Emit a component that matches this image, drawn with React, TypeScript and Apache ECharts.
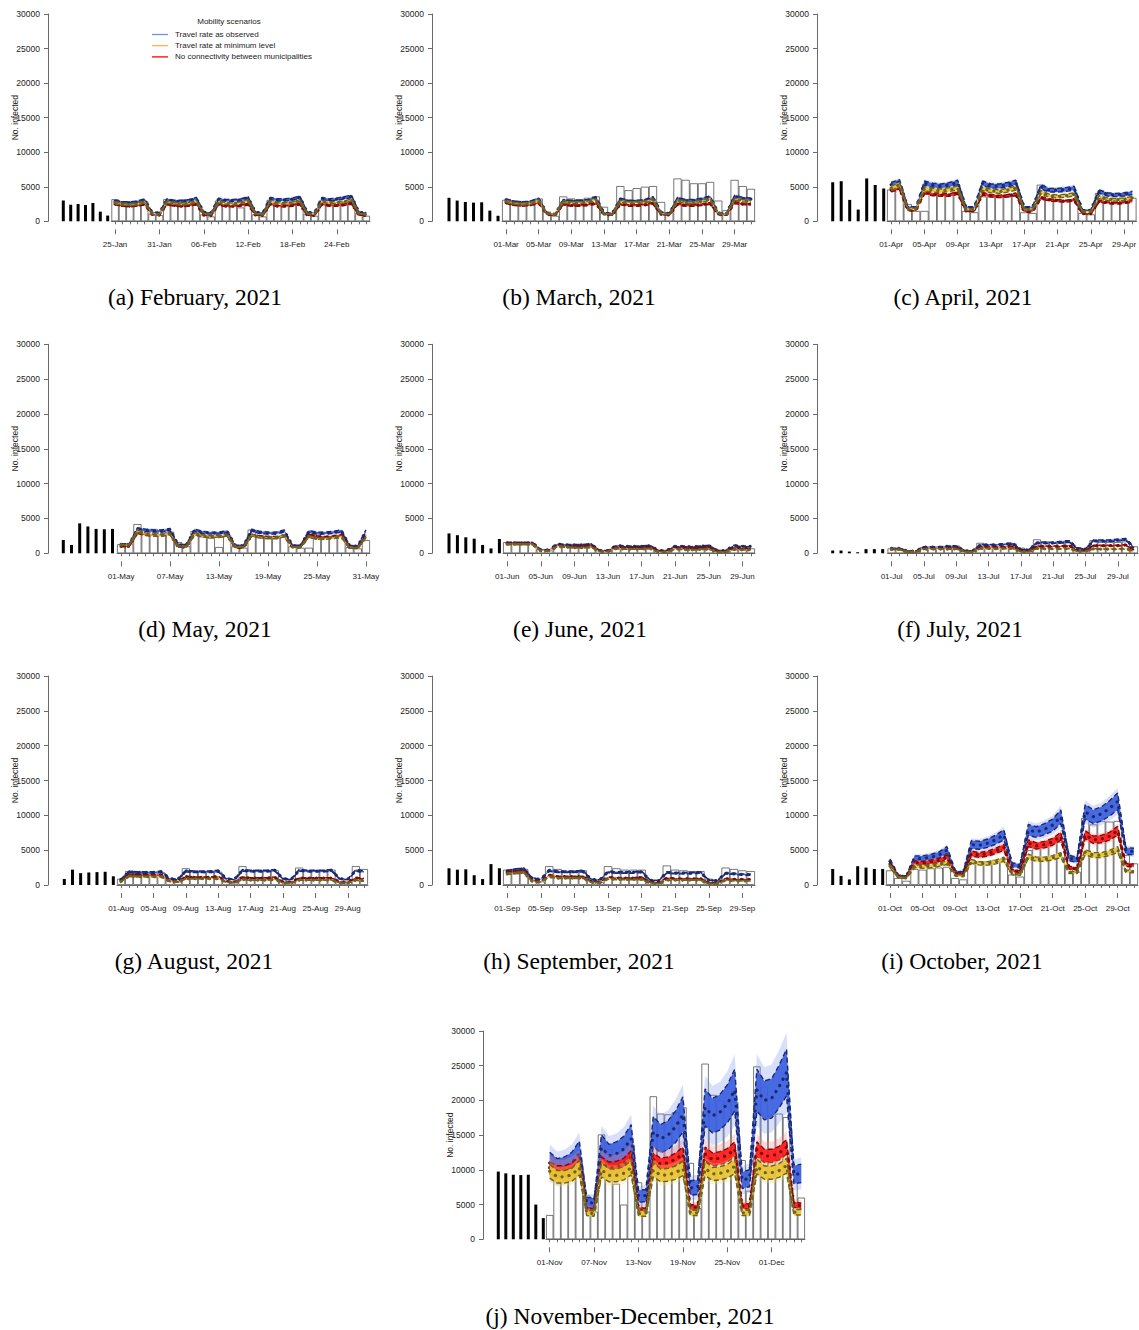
import React, { useEffect, useRef } from "react";
import * as echarts from "echarts";

// ---------------- DATA ----------------
const captions = [
  "(a) February, 2021", "(b) March, 2021", "(c) April, 2021",
  "(d) May, 2021", "(e) June, 2021", "(f) July, 2021",
  "(g) August, 2021", "(h) September, 2021", "(i) October, 2021",
  "(j) November-December, 2021",
];
const startDates = ["2021-01-25", "2021-03-01", "2021-04-01", "2021-05-01", "2021-06-01", "2021-07-01", "2021-08-01", "2021-09-01", "2021-10-01", "2021-11-01"];
const dayCounts = [35, 31, 30, 31, 30, 31, 31, 30, 31, 35];
const labelSteps = [6, 4, 4, 6, 4, 4, 4, 4, 4, 6];
const scenarioNames = ["Travel rate as observed", "Travel rate at minimum level", "No connectivity between municipalities"];
const legendTitle = "Mobility scenarios";

// previous week (black bars)
const febPast = [3000, 2400, 2500, 2350, 2650, 1400, 830];
const marPast = [3400, 3000, 2800, 2700, 2750, 1550, 800];
const aprPast = [5650, 5800, 3100, 1700, 6200, 5250, 4750];
const mayPast = [1900, 1200, 4300, 3850, 3500, 3450, 3500];
const junPast = [2850, 2600, 2300, 2100, 1200, 700, 2050];
const julPast = [400, 400, 250, 150, 600, 600, 600];
const augPast = [850, 2200, 1700, 1800, 1850, 1900, 1250];
const sepPast = [2400, 2200, 2250, 1400, 850, 3000, 2400];
const octPast = [2300, 1300, 800, 2700, 2500, 2300, 2300];
const novPast = [9750, 9500, 9300, 9250, 9300, 5000, 3050];

// observed cases during forecast window (white bars)
const febObs = [3200, 2700, 2600, 2700, 2900, 1100, 900, 3200, 2600, 2500, 2600, 2800, 1000, 700, 3000, 2500, 2300, 2000, 2300, 1000, 700, 3100, 2700, 2600, 2800, 3000, 1100, 800, 3000, 2500, 2400, 2600, 2800, 1200, 800];
const marObs = [3100, 2900, 2700, 2900, 3300, 1400, 800, 3600, 3300, 3200, 3400, 3600, 2100, 1200, 5100, 4500, 4800, 5000, 5100, 2800, 1300, 6200, 6000, 5500, 5500, 5700, 3000, 1600, 6000, 5100, 4700];
const aprObs = [4600, 4800, 2500, 1500, 1500, 4000, 3900, 3800, 4000, 1500, 1300, 3600, 3600, 3500, 3600, 3800, 1300, 1200, 5300, 3200, 3000, 3000, 3000, 1200, 1000, 4100, 3300, 3300, 3300, 3400];
const mayObs = [1300, 1400, 4200, 3500, 3500, 3300, 3100, 1600, 1000, 3200, 2400, 2200, 900, 2600, 1000, 800, 3400, 2600, 2500, 2400, 2500, 1000, 800, 800, 2800, 2400, 2300, 2500, 900, 700, 1900];
const junObs = [1600, 1500, 1400, 1400, 600, 400, 1300, 1200, 1000, 1100, 1100, 400, 300, 1000, 900, 900, 800, 900, 300, 200, 900, 800, 700, 800, 900, 300, 200, 800, 700, 700];
const julObs = [700, 700, 300, 200, 900, 800, 800, 900, 1100, 400, 300, 1500, 1300, 1300, 1300, 1400, 800, 400, 2000, 1700, 1600, 1500, 1600, 900, 600, 1900, 1600, 1600, 1600, 1700, 1000];
const augObs = [900, 2000, 1900, 1800, 1800, 1800, 900, 500, 2400, 2000, 1900, 1900, 1900, 1000, 500, 2700, 2000, 2000, 2000, 2100, 800, 400, 2500, 2100, 2100, 2100, 2200, 900, 400, 2700, 2300];
const sepObs = [2200, 2300, 2300, 1100, 500, 2700, 2300, 2000, 2000, 2100, 900, 400, 2700, 2400, 2200, 2200, 2200, 800, 400, 2800, 2200, 2100, 2000, 2000, 900, 400, 2500, 2300, 2100, 2000];
const octObs = [2100, 1000, 600, 2300, 2200, 2400, 2500, 2600, 1000, 800, 3600, 3300, 3400, 3600, 3800, 1500, 1200, 5000, 5300, 5500, 6000, 6200, 2400, 1900, 9600, 8700, 9200, 9100, 9200, 4300, 3100];
const novObs = [3500, 11600, 10000, 10500, 11000, 6300, 4000, 15100, 13000, 8000, 5000, 13600, 8200, 4000, 20600, 18100, 18000, 18300, 19000, 11000, 4500, 25300, 20800, 20000, 19800, 19800, 11400, 7000, 24900, 22000, 18000, 18100, 17600, 10500, 6000];

// scenario medians: travel as observed (blue)
const febBlue = [2900, 2700, 2700, 2800, 3100, 1300, 1200, 3100, 2900, 2900, 3000, 3300, 1300, 1200, 3200, 3000, 3000, 3100, 3400, 1300, 1200, 3300, 3100, 3100, 3200, 3500, 1300, 1200, 3300, 3100, 3200, 3400, 3600, 1300, 1200];
const marBlue = [3100, 2800, 2700, 2800, 3200, 1200, 1000, 3000, 2900, 2900, 3000, 3400, 1200, 1100, 3200, 2900, 2900, 3000, 3400, 1300, 1100, 3300, 3000, 3000, 3200, 3500, 1200, 1100, 3600, 3300, 3200];
const aprBlue = [5300, 5700, 2000, 2000, 5500, 5200, 5100, 5300, 5600, 2000, 2000, 5500, 5100, 5100, 5300, 5600, 2000, 2000, 5000, 4500, 4500, 4600, 4800, 1600, 1600, 4300, 3900, 3800, 3900, 4100];
const mayBlue = [1300, 1300, 3500, 3300, 3200, 3200, 3400, 1200, 1200, 3300, 3000, 2900, 2900, 3100, 1100, 1100, 3300, 3000, 2900, 2900, 3200, 1100, 1100, 3100, 2900, 2900, 3000, 3200, 1100, 1000, 3200];
const junBlue = [1500, 1500, 1500, 1500, 500, 500, 1300, 1200, 1200, 1200, 1300, 400, 400, 1100, 1000, 1000, 1000, 1100, 400, 400, 1000, 1000, 900, 1000, 1100, 400, 400, 1100, 1000, 1000];
const julBlue = [700, 700, 300, 300, 900, 900, 900, 1000, 1000, 400, 300, 1200, 1200, 1200, 1300, 1400, 500, 500, 1500, 1500, 1500, 1600, 1700, 700, 600, 1800, 1800, 1800, 1900, 2000, 800];
const augBlue = [800, 1900, 1800, 1800, 1800, 1900, 900, 800, 2000, 1900, 1900, 1900, 2000, 900, 800, 2100, 2000, 2000, 2000, 2100, 900, 800, 2100, 2000, 2000, 2000, 2100, 900, 800, 2100, 1900];
const sepBlue = [2000, 2200, 2300, 900, 800, 2100, 1900, 1900, 1900, 2000, 800, 700, 1900, 1800, 1800, 1800, 1900, 700, 600, 1800, 1700, 1700, 1700, 1800, 700, 600, 1700, 1600, 1500, 1500];
const octBlue = [3400, 1300, 1200, 3800, 3800, 4000, 4300, 5000, 1900, 1700, 5800, 5700, 6000, 6500, 7200, 2900, 2700, 7900, 7600, 8000, 8600, 9800, 3900, 3600, 10500, 9800, 10200, 11000, 12000, 4900, 4800];
const novBlue = [11000, 10200, 10400, 11000, 12400, 5300, 5200, 13200, 12000, 12300, 13000, 14500, 6200, 6300, 15500, 14500, 15000, 16200, 18000, 7400, 7500, 19000, 17800, 18300, 19500, 21500, 8500, 8800, 21500, 20000, 20300, 22000, 24000, 9300, 9500];

// travel at minimum level (yellow)
const febYellow = [2700, 2500, 2400, 2500, 2800, 1100, 1000, 2800, 2600, 2500, 2600, 2900, 1100, 1000, 2800, 2600, 2500, 2700, 3000, 1100, 1000, 2900, 2600, 2600, 2700, 3000, 1100, 1000, 2900, 2700, 2700, 2800, 3100, 1100, 1000];
const marYellow = [2900, 2600, 2500, 2600, 3000, 1100, 1000, 2800, 2700, 2700, 2800, 3100, 1100, 1000, 2900, 2700, 2700, 2800, 3100, 1100, 1000, 3000, 2700, 2700, 2900, 3200, 1100, 1000, 3200, 3000, 2900];
const aprYellow = [4800, 5300, 1800, 1800, 4700, 4500, 4400, 4600, 4800, 1700, 1700, 4700, 4400, 4300, 4500, 4800, 1700, 1700, 4200, 3700, 3600, 3700, 3900, 1400, 1400, 3500, 3200, 3100, 3200, 3400];
const mayYellow = [1200, 1200, 3200, 2800, 2600, 2600, 2800, 1000, 1000, 2800, 2500, 2400, 2400, 2600, 900, 900, 2600, 2300, 2200, 2200, 2500, 900, 900, 2400, 2100, 2100, 2200, 2400, 800, 800, 2300];
const junYellow = [1300, 1300, 1300, 1300, 350, 350, 1000, 900, 800, 800, 900, 250, 250, 700, 600, 600, 600, 700, 200, 200, 600, 550, 500, 550, 600, 200, 200, 550, 500, 500];
const julYellow = [550, 550, 200, 200, 600, 600, 600, 600, 650, 250, 200, 700, 700, 650, 700, 700, 250, 250, 700, 650, 650, 650, 700, 300, 250, 650, 600, 600, 600, 650, 300];
const augYellow = [500, 1300, 1200, 1200, 1200, 1200, 500, 400, 900, 900, 900, 900, 900, 400, 300, 800, 700, 700, 700, 800, 300, 300, 700, 700, 700, 700, 700, 300, 300, 700, 600];
const sepYellow = [1600, 1700, 1800, 500, 400, 1200, 1000, 1000, 1000, 1000, 400, 300, 900, 800, 800, 800, 800, 300, 200, 700, 700, 700, 700, 700, 200, 200, 700, 600, 600, 600];
const octYellow = [2700, 1100, 1000, 2700, 2600, 2700, 2900, 3200, 1400, 1300, 3400, 3100, 3100, 3300, 3700, 1600, 1500, 4100, 3700, 3700, 3900, 4300, 1800, 1800, 4700, 4300, 4300, 4600, 5100, 2000, 1900];
const novYellow = [9800, 9000, 9000, 9300, 10300, 3800, 3700, 10000, 9200, 9200, 9500, 10300, 3700, 3700, 10000, 9200, 9300, 9600, 10200, 3800, 3800, 10200, 9400, 9500, 9800, 10500, 3800, 3800, 10500, 9600, 9600, 9900, 10600, 3900, 3900];

// no connectivity (red)
const febRed = [2500, 2300, 2200, 2300, 2500, 1000, 900, 2500, 2300, 2200, 2300, 2500, 900, 850, 2500, 2200, 2200, 2300, 2500, 900, 850, 2500, 2200, 2200, 2300, 2500, 900, 850, 2500, 2300, 2300, 2400, 2600, 900, 850];
const marRed = [2700, 2400, 2300, 2400, 2700, 1000, 900, 2500, 2300, 2300, 2400, 2600, 1000, 900, 2500, 2300, 2300, 2400, 2600, 1000, 900, 2500, 2300, 2300, 2400, 2600, 1000, 900, 2700, 2500, 2500];
const aprRed = [4500, 4800, 1600, 1600, 4200, 3900, 3800, 3800, 4100, 1500, 1500, 4000, 3700, 3600, 3700, 3900, 1400, 1400, 3400, 3100, 3000, 2900, 3100, 1100, 1100, 2900, 2700, 2600, 2700, 2900];
const mayRed = [1000, 1000, 3000, 2700, 2600, 2600, 2800, 900, 900, 2800, 2500, 2400, 2400, 2600, 800, 800, 2600, 2400, 2300, 2300, 2500, 900, 900, 2600, 2400, 2300, 2400, 2600, 800, 800, 2500];
const junRed = [1400, 1400, 1400, 1400, 400, 400, 1100, 1000, 1000, 1000, 1100, 350, 350, 900, 800, 800, 800, 900, 300, 300, 800, 800, 750, 800, 900, 300, 300, 800, 700, 700];
const julRed = [600, 600, 250, 250, 700, 700, 700, 700, 800, 300, 250, 900, 900, 900, 900, 1000, 350, 350, 1000, 1000, 1000, 1000, 1100, 400, 400, 1100, 1100, 1100, 1100, 1200, 500];
const augRed = [600, 1500, 1400, 1400, 1400, 1400, 600, 500, 1200, 1100, 1100, 1100, 1200, 500, 400, 1100, 1000, 1000, 1000, 1100, 400, 400, 1000, 1000, 1000, 1000, 1000, 400, 400, 1000, 900];
const sepRed = [1800, 1900, 2000, 600, 500, 1400, 1200, 1200, 1200, 1200, 500, 400, 1100, 1000, 1000, 1000, 1100, 400, 300, 1000, 900, 900, 900, 900, 300, 300, 900, 800, 800, 800];
const octRed = [3000, 1200, 1100, 3200, 3100, 3300, 3500, 4000, 1700, 1500, 4500, 4300, 4500, 4900, 5400, 2100, 1900, 6000, 5600, 5800, 6200, 7000, 2500, 2300, 7200, 6500, 6600, 7000, 7800, 2900, 2800];
const novRed = [10300, 9800, 9800, 10200, 11000, 4200, 4000, 11000, 10300, 10400, 10800, 11800, 4300, 4100, 11500, 10800, 11000, 11500, 12300, 4600, 4600, 12300, 11500, 11700, 12100, 13000, 4800, 4700, 13000, 12000, 12000, 12400, 13300, 5000, 4800];

// relative half-widths of the inner (50%) and outer (simulation cloud) bands: [blue, yellow, red]
const innerSpread = [
  [0.05, 0.05, 0.05], [0.05, 0.05, 0.05], [0.06, 0.06, 0.05], [0.05, 0.05, 0.05], [0.06, 0.06, 0.06],
  [0.07, 0.07, 0.07], [0.06, 0.06, 0.06], [0.06, 0.06, 0.06], [0.1, 0.08, 0.08], [0.14, 0.1, 0.08],
];
const outerSpread = [
  [0.09, 0.08, 0.08], [0.09, 0.08, 0.08], [0.1, 0.09, 0.08], [0.09, 0.08, 0.08], [0.1, 0.09, 0.09],
  [0.12, 0.1, 0.1], [0.1, 0.09, 0.09], [0.1, 0.09, 0.09], [0.16, 0.13, 0.13], [0.24, 0.16, 0.17],
];

const pastSets = [febPast, marPast, aprPast, mayPast, junPast, julPast, augPast, sepPast, octPast, novPast];
const obsSets = [febObs, marObs, aprObs, mayObs, junObs, julObs, augObs, sepObs, octObs, novObs];
const blueSets = [febBlue, marBlue, aprBlue, mayBlue, junBlue, julBlue, augBlue, sepBlue, octBlue, novBlue];
const yellowSets = [febYellow, marYellow, aprYellow, mayYellow, junYellow, julYellow, augYellow, sepYellow, octYellow, novYellow];
const redSets = [febRed, marRed, aprRed, mayRed, junRed, julRed, augRed, sepRed, octRed, novRed];

// ---------------- LAYOUT ----------------
const rows = [
  { top: 14, zero: 221.3 },
  { top: 344.3, zero: 553.3 },
  { top: 676, zero: 885 },
  { top: 1031, zero: 1239.3 },
];
const panels = [
  { yx: 48, pc0: 63.3, ps: 7.4, f0: 111.4, f1: 370, row: 0, cx: 195, cy: 297 },
  { yx: 432, pc0: 449, ps: 8.17, f0: 502, f1: 755, row: 0, cx: 579, cy: 297 },
  { yx: 817, pc0: 832.7, ps: 8.5, f0: 887, f1: 1139, row: 0, cx: 963, cy: 297 },
  { yx: 48, pc0: 63.3, ps: 8.2, f0: 117, f1: 370, row: 1, cx: 205, cy: 629 },
  { yx: 432, pc0: 449, ps: 8.4, f0: 503, f1: 755, row: 1, cx: 580, cy: 629 },
  { yx: 817, pc0: 832.7, ps: 8.33, f0: 887.5, f1: 1138, row: 1, cx: 960, cy: 629 },
  { yx: 48, pc0: 64.3, ps: 8.17, f0: 117, f1: 368, row: 2, cx: 194, cy: 961 },
  { yx: 432, pc0: 449, ps: 8.4, f0: 503, f1: 755, row: 2, cx: 579, cy: 961 },
  { yx: 817, pc0: 832.7, ps: 8.33, f0: 886, f1: 1138, row: 2, cx: 962, cy: 961 },
  { yx: 483, pc0: 498.3, ps: 7.5, f0: 546, f1: 805, row: 3, cx: 630, cy: 1316 },
];

const SANS = "'Liberation Sans', Arial, sans-serif";
const SERIF = "'Liberation Serif', 'Times New Roman', serif";
const MON = ["Jan", "Feb", "Mar", "Apr", "May", "Jun", "Jul", "Aug", "Sep", "Oct", "Nov", "Dec"];

const scenColors = [
  { band: "#3b5fe0", cloud: "#7d96f0", dark: "#1b2a6e" },
  { band: "#e9c431", cloud: "#f0d870", dark: "#6d6124" },
  { band: "#ff1a1a", cloud: "#ff8080", dark: "#7a0c0c" },
];
// drawing order (back to front): blue, red, yellow
const drawOrder = [0, 2, 1];
const legendColors = ["#6f8cf0", "#f7b44c", "#ff0000"];

function dayLabels(start: string, n: number): string[] {
  const [y, m, d] = start.split("-").map(Number);
  const out: string[] = [];
  for (let i = 0; i < n; i++) {
    const dt = new Date(Date.UTC(y, m - 1, d + i));
    const dd = String(dt.getUTCDate()).padStart(2, "0");
    out.push(`${dd}-${MON[dt.getUTCMonth()]}`);
  }
  return out;
}

function buildOption() {
  const grid: any[] = [];
  const xAxis: any[] = [];
  const yAxis: any[] = [];
  const series: any[] = [];
  const graphic: any[] = [];

  panels.forEach((p, k) => {
    const r = rows[p.row];
    const h = r.zero - r.top;
    const pastLeft = p.pc0 - p.ps / 2;
    const gPast = grid.length;
    grid.push({ left: pastLeft, top: r.top, width: 7 * p.ps, height: h });
    const gFc = grid.length;
    grid.push({ left: p.f0, top: r.top, width: p.f1 - p.f0, height: h });

    const cats = dayLabels(startDates[k], dayCounts[k]);
    const step = labelSteps[k];

    const xPast = xAxis.length;
    xAxis.push({ type: "category", gridIndex: gPast, data: ["1", "2", "3", "4", "5", "6", "7"], show: false });
    const xFc = xAxis.length;
    xAxis.push({
      type: "category", gridIndex: gFc, data: cats, position: "bottom", offset: 8, boundaryGap: true,
      axisLine: { show: true, lineStyle: { color: "#6a6a6a", width: 1 } },
      axisTick: { show: true, alignWithLabel: true, interval: 0, length: 3, lineStyle: { color: "#6a6a6a" } },
      axisLabel: { interval: (i: number) => i % step === 0, fontSize: 8, color: "#222", margin: 11, fontFamily: SANS },
      splitLine: { show: false },
    });
    xAxis.push({
      type: "category", gridIndex: gFc, data: cats, position: "bottom", offset: 8, boundaryGap: true,
      axisLine: { show: false },
      axisTick: { show: true, alignWithLabel: true, interval: (i: number) => i % step === 0, length: 5, lineStyle: { color: "#6a6a6a" } },
      axisLabel: { show: false },
      splitLine: { show: false },
    });

    const yPast = yAxis.length;
    yAxis.push({
      type: "value", gridIndex: gPast, min: 0, max: 30000, interval: 5000, position: "left",
      offset: pastLeft - p.yx,
      axisLine: { show: true, lineStyle: { color: "#6a6a6a", width: 1 } },
      axisTick: { show: true, length: 4, lineStyle: { color: "#6a6a6a" } },
      axisLabel: { fontSize: 8.5, color: "#222", margin: 8, fontFamily: SANS, formatter: (v: number) => String(v) },
      splitLine: { show: false },
      name: "No. infected", nameLocation: "middle", nameGap: 29, nameRotate: 90, nameMoveOverlap: false,
      nameTextStyle: { fontSize: 8.5, color: "#222", fontFamily: SANS },
    });
    const yFc = yAxis.length;
    yAxis.push({ type: "value", gridIndex: gFc, min: 0, max: 30000, interval: 5000, show: false, splitLine: { show: false } });

    series.push({
      type: "bar", xAxisIndex: xPast, yAxisIndex: yPast, data: pastSets[k], barWidth: 3,
      itemStyle: { color: "#000" }, silent: true, z: 2,
    });
    series.push({
      type: "bar", xAxisIndex: xFc, yAxisIndex: yFc, data: obsSets[k], barCategoryGap: "0%",
      itemStyle: { color: "#fff", borderColor: "#555", borderWidth: 0.8 }, silent: true, z: 2,
    });

    const meds = [blueSets[k], yellowSets[k], redSets[k]];
    drawOrder.forEach((s, order) => {
      const med = meds[s];
      const c = scenColors[s];
      const inS = innerSpread[k][s];
      const outS = outerSpread[k][s];
      const z = 3 + order;
      const base = { type: "line", xAxisIndex: xFc, yAxisIndex: yFc, symbol: "none", silent: true, z };
      const oLo = med.map((v) => v * (1 - outS));
      const oW = med.map((v) => v * 2 * outS);
      const iLo = med.map((v) => v * (1 - inS));
      const iHi = med.map((v) => v * (1 + inS));
      const iW = med.map((v) => v * 2 * inS);
      series.push({ ...base, data: oLo, stack: `o${k}-${s}`, lineStyle: { width: 0, opacity: 0 } });
      series.push({ ...base, data: oW, stack: `o${k}-${s}`, lineStyle: { width: 0, opacity: 0 }, areaStyle: { color: c.cloud, opacity: 0.3 } });
      series.push({ ...base, data: iLo, stack: `i${k}-${s}`, lineStyle: { width: 0, opacity: 0 } });
      series.push({ ...base, data: iW, stack: `i${k}-${s}`, lineStyle: { width: 0, opacity: 0 }, areaStyle: { color: c.band, opacity: 0.92 } });
      series.push({ ...base, data: iLo, lineStyle: { color: c.dark, width: 1.4, type: [5, 3] } });
      series.push({ ...base, data: iHi, lineStyle: { color: c.dark, width: 1.4, type: [5, 3] } });
      series.push({ ...base, data: med, lineStyle: { color: c.dark, width: 3.2, type: [0.1, 7], cap: "round" } });
    });

    graphic.push({
      type: "text", x: p.cx, y: p.cy, silent: true,
      style: { text: captions[k], textAlign: "center", textVerticalAlign: "middle", font: `23.5px ${SERIF}`, fill: "#000" },
    });
  });

  // legend (drawn in panel a)
  graphic.push({
    type: "text", x: 229, y: 21.5, silent: true,
    style: { text: legendTitle, textAlign: "center", textVerticalAlign: "middle", font: `8px ${SANS}`, fill: "#222" },
  });
  scenarioNames.forEach((nm, i) => {
    const yy = 34.5 + i * 11.2;
    graphic.push({ type: "line", silent: true, shape: { x1: 152, y1: yy, x2: 168, y2: yy }, style: { stroke: legendColors[i], lineWidth: 1.3 } });
    graphic.push({
      type: "text", x: 175, y: yy, silent: true,
      style: { text: nm, textAlign: "left", textVerticalAlign: "middle", font: `8px ${SANS}`, fill: "#222" },
    });
  });

  return { animation: false, backgroundColor: "#fff", grid, xAxis, yAxis, series, graphic };
}

export default function App() {
  const ref = useRef<HTMLDivElement>(null);
  useEffect(() => {
    if (!ref.current) return;
    const chart = echarts.init(ref.current, undefined, { renderer: "svg" });
    chart.setOption(buildOption());
    return () => chart.dispose();
  }, []);
  return <div ref={ref} style={{ position: "absolute", left: 0, top: 0, width: 1139, height: 1330 }} />;
}
